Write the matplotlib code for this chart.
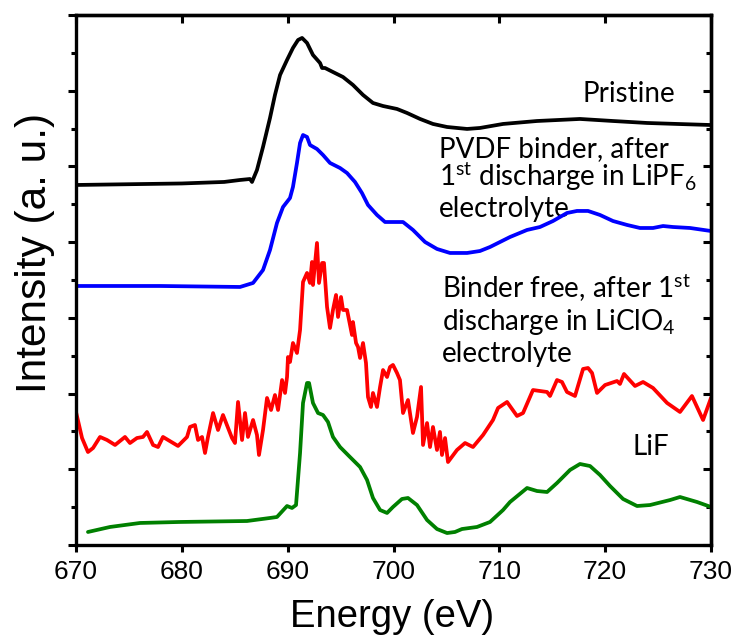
import matplotlib
matplotlib.use("Agg")
import matplotlib.pyplot as plt
from matplotlib.ticker import MultipleLocator, NullFormatter

# ---- data (energy in eV, intensity in arbitrary units, offset stacked) ----
pristine_x = [670.00, 680.00, 684.00, 685.50, 686.44, 686.63, 687.10, 687.67, 688.33, 688.80,
              689.28, 689.94, 690.50, 690.98, 691.36, 691.83, 692.39, 693.06, 693.25, 693.53,
              694.28, 695.23, 696.17, 697.12, 698.06, 699.01, 700.33, 701.28, 702.51, 703.73,
              705.06, 706.95, 708.17, 710.35, 713.56, 717.62, 720.74, 723.95, 726.79, 730.00]
pristine_y = [4.755, 4.775, 4.795, 4.821, 4.834, 4.795, 4.953, 5.257, 5.640, 5.944,
              6.208, 6.406, 6.565, 6.670, 6.697, 6.631, 6.472, 6.366, 6.300, 6.300,
              6.247, 6.181, 6.076, 5.944, 5.838, 5.798, 5.759, 5.706, 5.627, 5.561,
              5.521, 5.495, 5.508, 5.561, 5.600, 5.627, 5.600, 5.574, 5.561, 5.547]

pvdf_x = [670.00, 677.94, 685.50, 686.73, 687.67, 688.33, 688.99, 689.56, 690.22, 690.50,
          690.88, 691.17, 691.45, 691.83, 692.11, 692.77, 693.34, 694.00, 694.95, 695.61,
          696.36, 697.02, 697.59, 698.44, 699.20, 699.95, 700.90, 701.84, 702.98, 704.11,
          705.34, 706.95, 708.17, 709.12, 711.01, 712.62, 713.84, 715.07, 716.39, 717.34,
          718.38, 719.51, 720.74, 722.07, 723.29, 724.52, 725.47, 726.41, 728.02, 730.00]
pvdf_y = [3.421, 3.421, 3.408, 3.461, 3.632, 3.896, 4.253, 4.464, 4.583, 4.729,
          5.046, 5.310, 5.415, 5.389, 5.283, 5.230, 5.151, 5.046, 4.979, 4.913,
          4.795, 4.649, 4.491, 4.359, 4.266, 4.266, 4.266, 4.161, 4.002, 3.910,
          3.857, 3.857, 3.883, 3.936, 4.068, 4.161, 4.200, 4.279, 4.385, 4.412,
          4.412, 4.359, 4.279, 4.227, 4.187, 4.187, 4.213, 4.200, 4.187, 4.147]

binderfree_x = [670.00, 670.57, 671.13, 671.61, 672.27, 672.93, 673.69, 674.63, 675.10, 675.76,
                676.33, 676.71, 677.28, 677.75, 678.22, 679.64, 680.49, 680.77, 681.24, 681.53,
                681.91, 682.19, 682.47, 682.95, 683.42, 683.89, 684.74, 685.02, 685.31, 685.69,
                685.97, 686.25, 686.73, 687.10, 687.29, 687.67, 688.05, 688.43, 688.80, 689.09,
                689.47, 689.75, 689.94, 690.03, 690.22, 690.50, 690.88, 691.17, 691.45, 691.83,
                692.11, 692.30, 692.39, 692.77, 692.96, 693.25, 693.43, 693.72, 694.00, 694.28,
                694.57, 694.76, 695.04, 695.23, 695.61, 695.80, 696.08, 696.17, 696.46, 696.65,
                696.84, 697.12, 697.40, 697.59, 697.87, 698.06, 698.44, 698.73, 699.01, 699.39,
                699.67, 699.95, 700.33, 700.61, 700.90, 701.37, 701.84, 702.22, 702.60, 702.79,
                703.17, 703.45, 703.73, 704.11, 704.39, 704.58, 704.87, 705.15, 706.00, 706.76,
                707.51, 708.46, 709.40, 709.88, 710.73, 711.67, 712.24, 713.18, 714.51, 714.79,
                715.45, 715.92, 716.39, 717.15, 717.91, 718.38, 718.76, 719.23, 719.99, 721.12,
                721.40, 721.78, 722.82, 723.58, 724.52, 725.85, 727.07, 728.20, 729.25, 730.00]
binderfree_y = [1.757, 1.413, 1.228, 1.281, 1.427, 1.387, 1.321, 1.427, 1.347, 1.413,
                1.427, 1.493, 1.321, 1.294, 1.427, 1.308, 1.427, 1.559, 1.585, 1.387,
                1.427, 1.215, 1.427, 1.743, 1.519, 1.717, 1.413, 1.347, 1.889, 1.387,
                1.743, 1.427, 1.651, 1.453, 1.189, 1.519, 1.942, 1.783, 1.981, 1.783,
                2.179, 2.008, 2.219, 2.483, 2.417, 2.668, 2.536, 2.840, 3.474, 3.593,
                3.461, 3.738, 3.434, 3.989, 3.461, 3.725, 3.725, 3.144, 2.866, 3.104,
                3.302, 3.012, 3.276, 3.104, 3.104, 2.972, 2.774, 2.945, 2.668, 2.615,
                2.470, 2.668, 2.404, 1.955, 1.823, 2.008, 1.823, 2.087, 2.311, 2.219,
                2.351, 2.378, 2.272, 2.179, 1.743, 1.915, 1.479, 1.691, 2.087, 1.321,
                1.611, 1.294, 1.559, 1.255, 1.493, 1.189, 1.413, 1.096, 1.255, 1.347,
                1.294, 1.453, 1.651, 1.810, 1.889, 1.704, 1.743, 2.047, 2.021, 1.968,
                2.179, 2.153, 2.021, 1.968, 2.325, 2.338, 2.272, 2.008, 2.113, 2.166,
                2.127, 2.259, 2.100, 2.153, 2.074, 1.876, 1.757, 1.968, 1.651, 1.942]

lif_x = [671.13, 673.21, 676.05, 679.73, 686.16, 688.33, 688.99, 689.94, 690.41, 690.79,
         691.17, 691.45, 691.83, 692.02, 692.39, 692.87, 693.34, 693.81, 694.28, 694.95,
         695.89, 696.84, 697.50, 698.06, 698.73, 699.39, 699.95, 700.80, 701.37, 702.22,
         703.17, 704.11, 705.06, 705.81, 706.47, 707.89, 709.12, 710.35, 711.01, 712.62,
         713.56, 714.51, 715.45, 716.68, 717.62, 718.57, 719.51, 720.46, 721.69, 723.01,
         724.24, 726.13, 727.07, 728.68, 730.00]
lif_y = [0.172, 0.238, 0.291, 0.304, 0.317, 0.357, 0.370, 0.515, 0.489, 0.528,
         1.215, 1.876, 2.140, 2.140, 1.876, 1.743, 1.717, 1.625, 1.427, 1.294,
         1.162, 1.030, 0.859, 0.621, 0.462, 0.423, 0.502, 0.608, 0.621, 0.528,
         0.330, 0.211, 0.158, 0.172, 0.211, 0.238, 0.304, 0.462, 0.568, 0.753,
         0.713, 0.700, 0.819, 0.991, 1.070, 1.043, 0.925, 0.779, 0.608, 0.515,
         0.528, 0.594, 0.634, 0.568, 0.502]

x_ticks = [670, 680, 690, 700, 710, 720, 730]

plt.rcParams['mathtext.fontset'] = 'custom'
plt.rcParams['mathtext.rm'] = 'Lato'
plt.rcParams['mathtext.it'] = 'Lato:italic'
plt.rcParams['mathtext.bf'] = 'Lato:bold'

fig = plt.figure(figsize=(7.4, 6.41), dpi=100)
ax = fig.add_axes([76/740, 96/641, 635/740, 530/641])

lw = 2.7
style = dict(lw=lw, zorder=2, solid_joinstyle='round', solid_capstyle='round')
ax.plot(pristine_x, pristine_y, color='black', **style)
ax.plot(pvdf_x, pvdf_y, color='#0000ff', **style)
ax.plot(binderfree_x, binderfree_y, color='#ff0000', **style)
ax.plot(lif_x, lif_y, color='#008000', **style)

ax.set_xlim(670, 730)
ax.set_ylim(0, 7)

for s in ax.spines.values():
    s.set_linewidth(2.4)

ax.set_xticks(x_ticks)
ax.set_xticklabels([str(t) for t in x_ticks], fontfamily='Liberation Sans', fontsize=19)
ax.yaxis.set_major_locator(MultipleLocator(1))
ax.yaxis.set_minor_locator(MultipleLocator(0.5))
ax.yaxis.set_major_formatter(NullFormatter())
ax.tick_params(axis='x', which='major', direction='out', length=5, width=2.2, pad=6,
               top=False, bottom=True)
ax.tick_params(axis='y', which='major', direction='out', length=6, width=2.2,
               left=True, right=False)
ax.tick_params(axis='y', which='minor', direction='out', length=3.5, width=2.2,
               left=True, right=False)

# mirrored inward ticks on top and right
axt = ax.secondary_xaxis('top')
axt.set_xticks(x_ticks)
axt.tick_params(axis='x', direction='in', length=6, width=2.2, labeltop=False)
axt.spines['top'].set_linewidth(2.4)
axr = ax.secondary_yaxis('right')
axr.yaxis.set_major_locator(MultipleLocator(1))
axr.yaxis.set_minor_locator(MultipleLocator(0.5))
axr.yaxis.set_major_formatter(NullFormatter())
axr.tick_params(axis='y', which='major', direction='in', length=6, width=2.2, labelright=False)
axr.tick_params(axis='y', which='minor', direction='in', length=3.5, width=2.2)
axr.spines['right'].set_linewidth(2.4)

# axis labels
fig.text(392/740, 1 - 627/641, 'Energy (eV)', fontfamily='Liberation Sans', fontsize=27.5,
         ha='center', va='baseline')
fig.text(46/740, 1 - 253/641, 'Intensity (a. u.)', fontfamily='Liberation Sans', fontsize=30.5,
         ha='center', va='baseline', rotation=90, rotation_mode='anchor')

# annotations
tk = dict(transform=ax.transAxes, fontfamily='Lato', fontsize=20, ha='left', va='baseline',
          zorder=1)
ax.text(0.798, 0.836, 'Pristine', **tk)
ax.text(0.572, 0.732, 'PVDF binder, after', **tk)
ax.text(0.572, 0.677, r'1$^{\mathrm{st}}$ discharge in LiPF$_{\mathrm{6}}$', **tk)
ax.text(0.572, 0.619, 'electrolyte', **tk)
ax.text(0.576, 0.466, r'Binder free, after 1$^{\mathrm{st}}$', **tk)
ax.text(0.576, 0.406, r'discharge in LiClO$_{\mathrm{4}}$', **tk)
ax.text(0.576, 0.345, 'electrolyte', **tk)
ax.text(0.876, 0.170, 'LiF', **tk)

fig.savefig('out.png', dpi=100)
